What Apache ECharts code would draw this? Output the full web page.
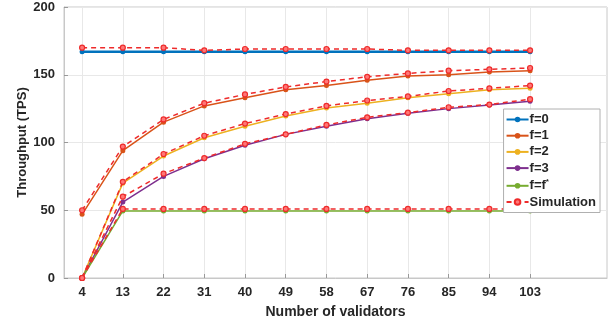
<!DOCTYPE html>
<html><head><meta charset="utf-8">
<script src="https://cdn.jsdelivr.net/npm/echarts@6/dist/echarts.min.js"></script>
<style>html,body{margin:0;padding:0;background:#fff}#c{width:613px;height:328px}</style>
</head><body><div id="c"></div>
<script>
const validators = [4, 13, 22, 31, 40, 49, 58, 67, 76, 85, 94, 103];
const f0 = [167, 167, 167, 167, 167, 167, 167, 167, 167, 167, 167, 167];
const f1 = [47, 94, 115, 127, 133, 139, 142, 146, 149, 150, 152, 153];
const f2 = [0, 70, 90, 103.5, 112, 119.5, 125.5, 129, 133, 136, 139, 140];
const f3 = [0, 56, 75, 88, 98, 106, 112, 117.5, 121.5, 125, 127.7, 130.5];
const fStar = [0, 49.5, 49.5, 49.5, 49.5, 49.5, 49.5, 49.5, 49.5, 49.5, 49.5, 49.5];
const sim0 = [170, 170, 170, 168, 169, 169, 169, 169, 168, 168, 168, 168];
const sim1 = [50, 97, 117, 129, 135.5, 141, 145, 148.5, 151, 153, 154, 155];
const sim2 = [0, 71, 91.5, 105, 114, 121, 127, 131, 134, 138, 140, 142];
const sim3 = [0, 60, 77, 88.5, 99, 106, 113, 118.6, 122, 126, 128, 132];
const simStar = [0, 51, 51, 51, 51, 51, 51, 51, 51, 51, 51, 51];
const yTicks = [0, 50, 100, 150, 200];

const pts = arr => validators.map((v, i) => [v, arr[i]]);
const font = "'Liberation Sans', Arial, sans-serif";
const txt = '#262626';
const theory = (name, data, color, w) => ({
  name, type: 'line', data: pts(data), symbol: 'circle', symbolSize: 5,
  lineStyle: { color, width: w }, itemStyle: { color }, z: 2
});
const simRed = '#ee2b2b';
const sim = data => ({
  name: 'Simulation', type: 'line', data: pts(data), symbol: 'circle', symbolSize: 5,
  lineStyle: { color: simRed, width: 1.5, type: [5, 4] },
  itemStyle: { color: '#f77', borderColor: simRed, borderWidth: 1.2 }, z: 3
});

const chart = echarts.init(document.getElementById('c'), null, { renderer: 'canvas' });
chart.setOption({
  animation: false,
  grid: { left: 64, right: 6, top: 7, bottom: 50, show: true, borderColor: '#c8c8c8', borderWidth: 1 },
  xAxis: {
    type: 'value', min: 0, max: 120,
    name: 'Number of validators', nameLocation: 'middle', nameGap: 27, nameMoveOverlap: false,
    nameTextStyle: { fontFamily: font, fontWeight: 'bold', fontSize: 14, color: txt },
    axisLine: { show: true, lineStyle: { color: '#c8c8c8' } },
    axisTick: { show: true, inside: true, length: 4, customValues: validators, lineStyle: { color: '#999' } },
    axisLabel: { customValues: validators, fontFamily: font, fontWeight: 'bold', fontSize: 13, color: txt, margin: 8 },
    splitLine: { show: true, lineStyle: { color: '#e8e8e8' } }
  },
  yAxis: {
    type: 'value', min: 0, max: 200, interval: 50,
    name: 'Throughput (TPS)', nameLocation: 'middle', nameGap: 35, nameMoveOverlap: false,
    nameTextStyle: { fontFamily: font, fontWeight: 'bold', fontSize: 13, color: txt },
    axisLine: { show: true, lineStyle: { color: '#c8c8c8' } },
    axisTick: { show: true, inside: true, length: 4, lineStyle: { color: '#999' } },
    axisLabel: { fontFamily: font, fontWeight: 'bold', fontSize: 13, color: txt, margin: 9 },
    splitLine: { show: true, lineStyle: { color: '#e8e8e8' } }
  },
  legend: {
    orient: 'vertical', right: 13, top: 109, itemGap: 3.2, itemWidth: 22, itemHeight: 7,
    backgroundColor: '#fff', borderColor: '#b0b0b0', borderWidth: 1, padding: [4, 4, 4, 2],
    data: ['f=0', 'f=1', 'f=2', 'f=3', 'f=f*', 'Simulation'],
    formatter: n => n === 'f=f*' ? 'f=f{s|*}' : n,
    textStyle: { fontFamily: font, fontWeight: 'bold', fontSize: 13, color: txt, padding: [0, 0, 0, -4],
      rich: { s: { fontFamily: font, fontWeight: 'bold', fontSize: 8, color: txt, verticalAlign: 'top', padding: [0, 0, 8, 0] } } }
  },
  series: [
    theory('f=0', f0, '#0072BD', 2.5),
    theory('f=1', f1, '#D95319', 1.5),
    theory('f=2', f2, '#EDB120', 1.5),
    theory('f=3', f3, '#7E2F8E', 1.5),
    theory('f=f*', fStar, '#77AC30', 1.5),
    sim(sim0), sim(sim1), sim(sim2), sim(sim3), sim(simStar)
  ]
});
</script></body></html>
